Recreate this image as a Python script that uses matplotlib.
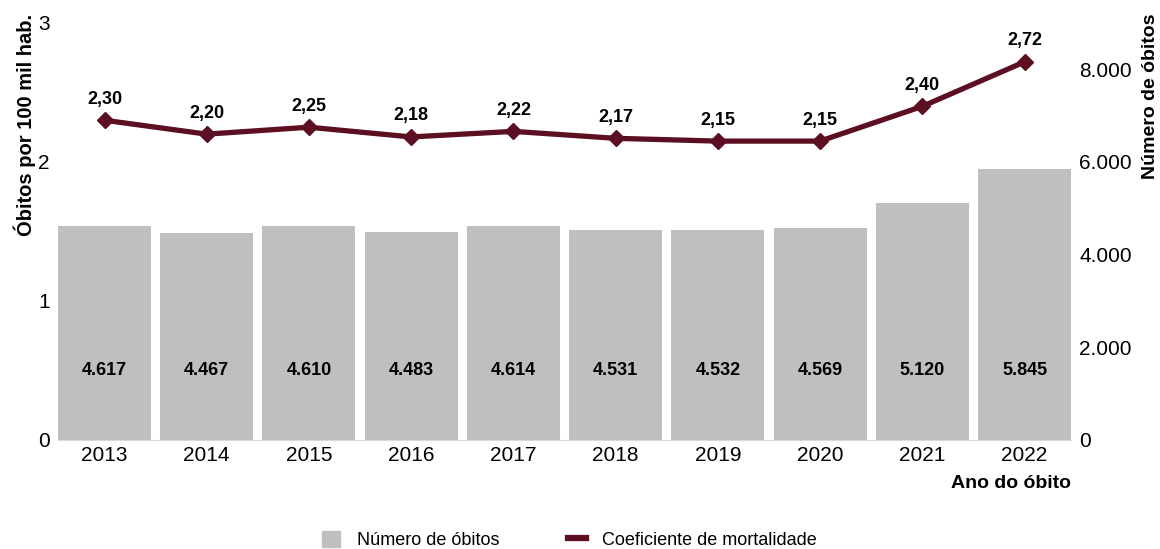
import matplotlib
matplotlib.use("Agg")
import matplotlib.pyplot as plt
from matplotlib.patches import Patch
from matplotlib.lines import Line2D
import numpy as np

plt.rcParams['font.family'] = ['Liberation Sans Narrow', 'Liberation Sans', 'DejaVu Sans']

anos = ['2013', '2014', '2015', '2016', '2017', '2018', '2019', '2020', '2021', '2022']
obitos = [4617, 4467, 4610, 4483, 4614, 4531, 4532, 4569, 5120, 5845]
coef = [2.30, 2.20, 2.25, 2.18, 2.22, 2.17, 2.15, 2.15, 2.40, 2.72]

bar_color = '#BFBFBF'
line_color = '#5B0F20'

def br(v, dec=0):
    s = f"{v:,.{dec}f}"
    return s.replace(',', 'X').replace('.', ',').replace('X', '.')

fig = plt.figure(figsize=(11.6, 5.49), dpi=100)
ax = fig.add_axes([0.05, 0.1986, 0.8733, 0.7596])
ax2 = ax.twinx()
ax.set_zorder(ax2.get_zorder() + 1)
ax.patch.set_visible(False)

x = np.arange(len(anos))
ax2.bar(x, obitos, width=0.91, color=bar_color)
for xi, v in zip(x, obitos):
    ax2.text(xi, 1500, br(v), ha='center', va='center', fontsize=13, fontweight='bold')

ax.plot(x, coef, color=line_color, lw=3.8, marker='D', ms=8)
for xi, v in zip(x, coef):
    ax.annotate(br(v, 2), (xi, v), xytext=(0, 9), textcoords='offset points',
                ha='center', va='bottom', fontsize=13, fontweight='bold')

ax.set_xlim(-0.455, 9.455)
ax.set_ylim(0, 3)
ax2.set_ylim(0, 9000)
ax.set_yticks([0, 1, 2, 3])
ax2.set_yticks([0, 2000, 4000, 6000, 8000])
ax2.set_yticklabels([br(v) for v in [0, 2000, 4000, 6000, 8000]])
ax.set_xticks(x)
ax.set_xticklabels(anos)

for a in (ax, ax2):
    for s in ['top', 'left', 'right']:
        a.spines[s].set_visible(False)
    a.tick_params(length=0, labelsize=15)
ax2.spines['bottom'].set_visible(False)
ax.spines['bottom'].set_color('#D9D9D9')
ax.tick_params(axis='y', pad=6)
ax.tick_params(axis='x', pad=4)
ax2.tick_params(axis='y', pad=6)

fig.text(0.021, 0.975, 'Óbitos por 100 mil hab.', rotation=90, ha='center', va='top',
         fontsize=14.5, fontweight='bold')
fig.text(0.9915, 0.975, 'Número de óbitos', rotation=90, ha='center', va='top',
         fontsize=14, fontweight='bold')
fig.text(0.923, 0.12, 'Ano do óbito', ha='right', va='center', fontsize=14, fontweight='bold')

handles = [Patch(color=bar_color), Line2D([0], [0], color=line_color, lw=4.5)]
fig.legend(handles, ['Número de óbitos', 'Coeficiente de mortalidade'], loc='center',
           bbox_to_anchor=(0.491, 0.017), ncol=2, frameon=False, fontsize=13,
           handlelength=1.0, handleheight=1.0, columnspacing=3.8, handletextpad=0.9)

fig.savefig('out.png', dpi=100)
